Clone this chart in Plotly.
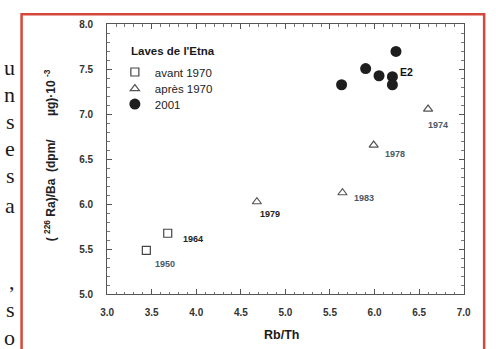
import plotly.graph_objects as go

W, H = 496, 349

# ---- data ----
sq_x = [3.44, 3.68]
sq_y = [5.49, 5.68]
sq_labels = ["1950", "1964"]

tri_x = [4.68, 5.64, 5.99, 6.60]
tri_y = [6.03, 6.13, 6.66, 7.06]
tri_labels = ["1979", "1983", "1978", "1974"]

c_x = [6.24, 5.90, 6.05, 6.20, 6.20, 5.63]
c_y = [7.70, 7.51, 7.43, 7.42, 7.33, 7.33]
c_labels = ["", "", "", "E2", "", ""]

series_names = ["avant 1970", "après 1970", "2001"]
legend_title = "Laves de l'Etna"
x_title = "Rb/Th"
NB = "\u00a0"
y_title = ("(" + NB + "<sup>226</sup>" + NB + "Ra)/Ba" + NB * 2 + "(dpm/" + NB * 7
           + "µg)·10" + NB + "<sup>-3</sup>")

# scanned page fragments on the left margin
frag_chars = ["u", "n", "s", "e", "s", "a", ",", "s", "o"]
frag_ypx = [64, 92, 120, 148, 176, 206, 285, 313, 342]

# ---- styles ----
sq_off = [(19, -14), (25, -6)]
tri_off = [(13, -12), (22, -5), (21, -9), (10, -16)]
c_off = (14, 5)
sq_col = ["#4a5866", "#222222"]
tri_col = ["#222222", "#4a5866", "#4a5866", "#4a5866"]
legend_rows_px = [69, 86, 102]

x0p, x1p = 103, 470
ytop, ybot = 20, 298

fig = go.Figure()
fig.add_trace(go.Scatter(x=sq_x, y=sq_y, mode="markers", name=series_names[0], legend="legend",
                         marker=dict(symbol="square-open", size=8, color="#444",
                                     line=dict(width=1.2, color="#444"))))
fig.add_trace(go.Scatter(x=tri_x, y=tri_y, mode="markers", name=series_names[1], legend="legend2",
                         marker=dict(symbol="triangle-up-open", size=8, color="#555",
                                     line=dict(width=1.2, color="#555"))))
fig.add_trace(go.Scatter(x=c_x, y=c_y, mode="markers", name=series_names[2], legend="legend3",
                         marker=dict(symbol="circle", size=11, color="#1e1e1e",
                                     line=dict(width=0))))

ann = []
lab_font = dict(family="Liberation Sans", size=9, weight="bold")
for x, y, t, (dx, dy), col in zip(sq_x, sq_y, sq_labels, sq_off, sq_col):
    ann.append(dict(x=x, y=y, xref="x", yref="y", text=t, showarrow=False,
                    xshift=dx, yshift=dy, font=dict(lab_font, color=col)))
for x, y, t, (dx, dy), col in zip(tri_x, tri_y, tri_labels, tri_off, tri_col):
    ann.append(dict(x=x, y=y, xref="x", yref="y", text=t, showarrow=False,
                    xshift=dx, yshift=dy, font=dict(lab_font, color=col)))
for x, y, t in zip(c_x, c_y, c_labels):
    if t:
        ann.append(dict(x=x, y=y, xref="x", yref="y", text=t, showarrow=False,
                        xshift=c_off[0], yshift=c_off[1],
                        font=dict(family="Liberation Sans", size=10.5, weight="bold", color="#111")))

# legend title
ann.append(dict(x=126 / W, y=1 - 47 / H, xref="paper", yref="paper", xanchor="left",
                yanchor="middle", text=legend_title, showarrow=False,
                font=dict(family="Liberation Sans", size=11.5, weight="bold", color="#1a1a1a")))
# axis titles
ann.append(dict(x=282 / W, y=1 - 340 / H, xref="paper", yref="paper", text=x_title,
                showarrow=False, xanchor="center", yanchor="middle",
                font=dict(family="Liberation Sans", size=12.5, weight="bold", color="#1a1a1a")))
ann.append(dict(x=44 / W, y=1 - 155 / H, xref="paper", yref="paper", text=y_title,
                showarrow=False, textangle=-90, xanchor="center", yanchor="middle",
                font=dict(family="Liberation Sans", size=12, weight="bold", color="#222")))
# page fragments
for ch, yp in zip(frag_chars, frag_ypx):
    ann.append(dict(x=10 / W, y=1 - yp / H, xref="paper", yref="paper", text=ch,
                    showarrow=False, xanchor="right", yanchor="middle",
                    font=dict(family="Liberation Serif", size=22, color="#1a1a1a")))

axis_common = dict(ticks="inside", ticklen=5, tickwidth=1, tickcolor="#555",
                   showline=True, linecolor="#555", linewidth=1, mirror="ticks",
                   showgrid=False, zeroline=False, tickformat=".1f",
                   tickfont=dict(family="Liberation Sans", size=10, weight="bold", color="#333"),
                   minor=dict(ticks="inside", ticklen=2.5, tickcolor="#777", showgrid=False))

leg_common = dict(xanchor="left", yanchor="middle", bgcolor="rgba(0,0,0,0)", borderwidth=0,
                  font=dict(family="Liberation Sans", size=11.5, color="#222"))

fig.update_layout(
    width=W, height=H, autosize=False,
    margin=dict(l=0, r=0, t=0, b=0),
    paper_bgcolor="white", plot_bgcolor="white",
    xaxis=dict(axis_common, range=[3, 7], tick0=3, dtick=0.5,
               domain=[x0p / W, x1p / W], ticklabelstandoff=9,
               minor=dict(axis_common["minor"], dtick=0.1)),
    yaxis=dict(axis_common, range=[5, 8], tick0=5, dtick=0.5,
               domain=[1 - ybot / H, 1 - ytop / H], ticklabelstandoff=11,
               minor=dict(axis_common["minor"], dtick=0.1)),
    showlegend=True,
    legend=dict(leg_common, x=111 / W, y=1 - legend_rows_px[0] / H),
    legend2=dict(leg_common, x=111 / W, y=1 - legend_rows_px[1] / H),
    legend3=dict(leg_common, x=111 / W, y=1 - legend_rows_px[2] / H),
    annotations=ann,
    shapes=[dict(type="rect", xref="paper", yref="paper",
                 x0=15 / W, x1=491 / W, y0=-0.2, y1=1 - 9.5 / H,
                 line=dict(color="#d4473a", width=2.5))],
)

fig.write_html("out.html", config={"displayModeBar": False})
with open("out.html", "r", encoding="utf-8") as f:
    html = f.read()
html = html.replace("<head>", "<head><style>html,body{margin:0;padding:0;overflow:hidden;}</style>", 1)
with open("out.html", "w", encoding="utf-8") as f:
    f.write(html)
